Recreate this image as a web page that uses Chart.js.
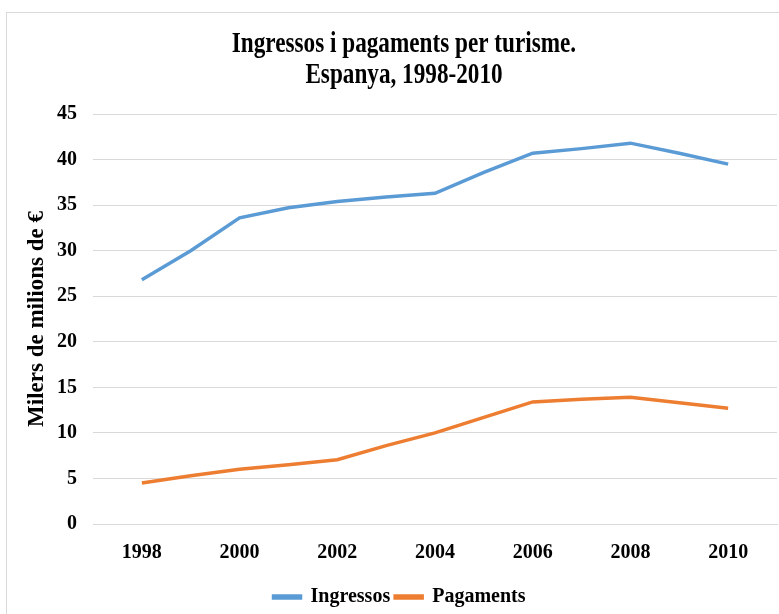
<!DOCTYPE html>
<html>
<head>
<meta charset="utf-8">
<script src="https://cdn.jsdelivr.net/npm/chart.js@4"></script>
<style>
  html, body { margin: 0; padding: 0; background: #fff; }
  #wrap { width: 779px; height: 614px; position: relative; }
</style>
</head>
<body>
<div id="wrap"><canvas id="myChart" width="779" height="614"></canvas></div>
<script>
var years = [1998, 1999, 2000, 2001, 2002, 2003, 2004, 2005, 2006, 2007, 2008, 2009, 2010];
var ingressos = [26.8, 30.0, 33.6, 34.7, 35.4, 35.9, 36.3, 38.6, 40.7, 41.2, 41.8, 40.7, 39.5];
var pagaments = [4.5, 5.3, 6.0, 6.5, 7.05, 8.6, 10.0, 11.7, 13.4, 13.7, 13.9, 13.3, 12.7];
var xTicks = [1998, 2000, 2002, 2004, 2006, 2008, 2010];
var yTicks = [0, 5, 10, 15, 20, 25, 30, 35, 40, 45];
var titleLines = ['Ingressos i pagaments per turisme.', 'Espanya, 1998-2010'];

var serif = "'Liberation Serif', 'Times New Roman', serif";

function toPoints(vals) {
    return years.map(function (y, i) { return { x: y, y: vals[i] }; });
}

// light frame round the chart, plus the narrow two-line title
var framePlugin = {
    id: 'frame',
    beforeDraw: function (chart) {
        var ctx = chart.ctx;
        ctx.save();
        ctx.fillStyle = '#fff';
        ctx.fillRect(0, 0, chart.width, chart.height);
        ctx.strokeStyle = '#d9d9d9';
        ctx.lineWidth = 1;
        ctx.strokeRect(6.5, 12.5, chart.width + 10, chart.height + 10);
        ctx.restore();
    },
    afterDraw: function (chart) {
        var ctx = chart.ctx;
        ctx.save();
        ctx.fillStyle = '#000';
        ctx.font = 'bold 29px ' + serif;
        ctx.textAlign = 'center';
        ctx.textBaseline = 'middle';
        ctx.translate(404, 0);
        ctx.scale(0.8, 1);
        ctx.fillText(titleLines[0], 0, 45);
        ctx.fillText(titleLines[1], 0, 76);
        ctx.restore();
    }
};

var myChart = new Chart('myChart', {
    type: 'line',
    data: {
        datasets: [{
            label: 'Ingressos',
            data: toPoints(ingressos),
            borderColor: '#5b9bd5',
            backgroundColor: '#5b9bd5',
            borderWidth: 3.5,
            pointRadius: 0,
            tension: 0
        }, {
            label: 'Pagaments',
            data: toPoints(pagaments),
            borderColor: '#ed7d31',
            backgroundColor: '#ed7d31',
            borderWidth: 3.5,
            pointRadius: 0,
            tension: 0
        }]
    },
    options: {
        responsive: false,
        animation: false,
        layout: { padding: { top: 114, left: 22, right: 2, bottom: -3 } },
        plugins: {
            title: { display: false },
            legend: {
                position: 'bottom',
                labels: {
                    color: '#000',
                    font: { family: serif, size: 20, weight: 'bold' },
                    boxWidth: 27,
                    boxHeight: 2,
                    padding: 5
                }
            },
            tooltip: { enabled: false }
        },
        scales: {
            x: {
                type: 'linear',
                min: 1997,
                max: 2011,
                afterBuildTicks: function (axis) {
                    axis.ticks = xTicks.map(function (v) { return { value: v }; });
                },
                grid: { display: false, drawTicks: false },
                border: { color: '#d9d9d9' },
                ticks: {
                    color: '#000',
                    font: { family: serif, size: 20, weight: 'bold' },
                    padding: 17,
                    maxRotation: 0,
                    callback: function (v) { return String(v); }
                }
            },
            y: {
                min: 0,
                max: 45,
                afterBuildTicks: function (axis) {
                    axis.ticks = yTicks.map(function (v) { return { value: v }; });
                },
                afterFit: function (axis) {
                    axis.width = 71;
                },
                grid: { color: '#d9d9d9', drawTicks: false },
                border: { display: false },
                title: {
                    display: true,
                    text: 'Milers de milions de €',
                    color: '#000',
                    font: { family: serif, size: 23, weight: 'bold' },
                    padding: { top: 1, bottom: 6 }
                },
                ticks: {
                    color: '#000',
                    font: { family: serif, size: 20, weight: 'bold' },
                    padding: 16
                }
            }
        }
    },
    plugins: [framePlugin]
});
</script>
</body>
</html>
